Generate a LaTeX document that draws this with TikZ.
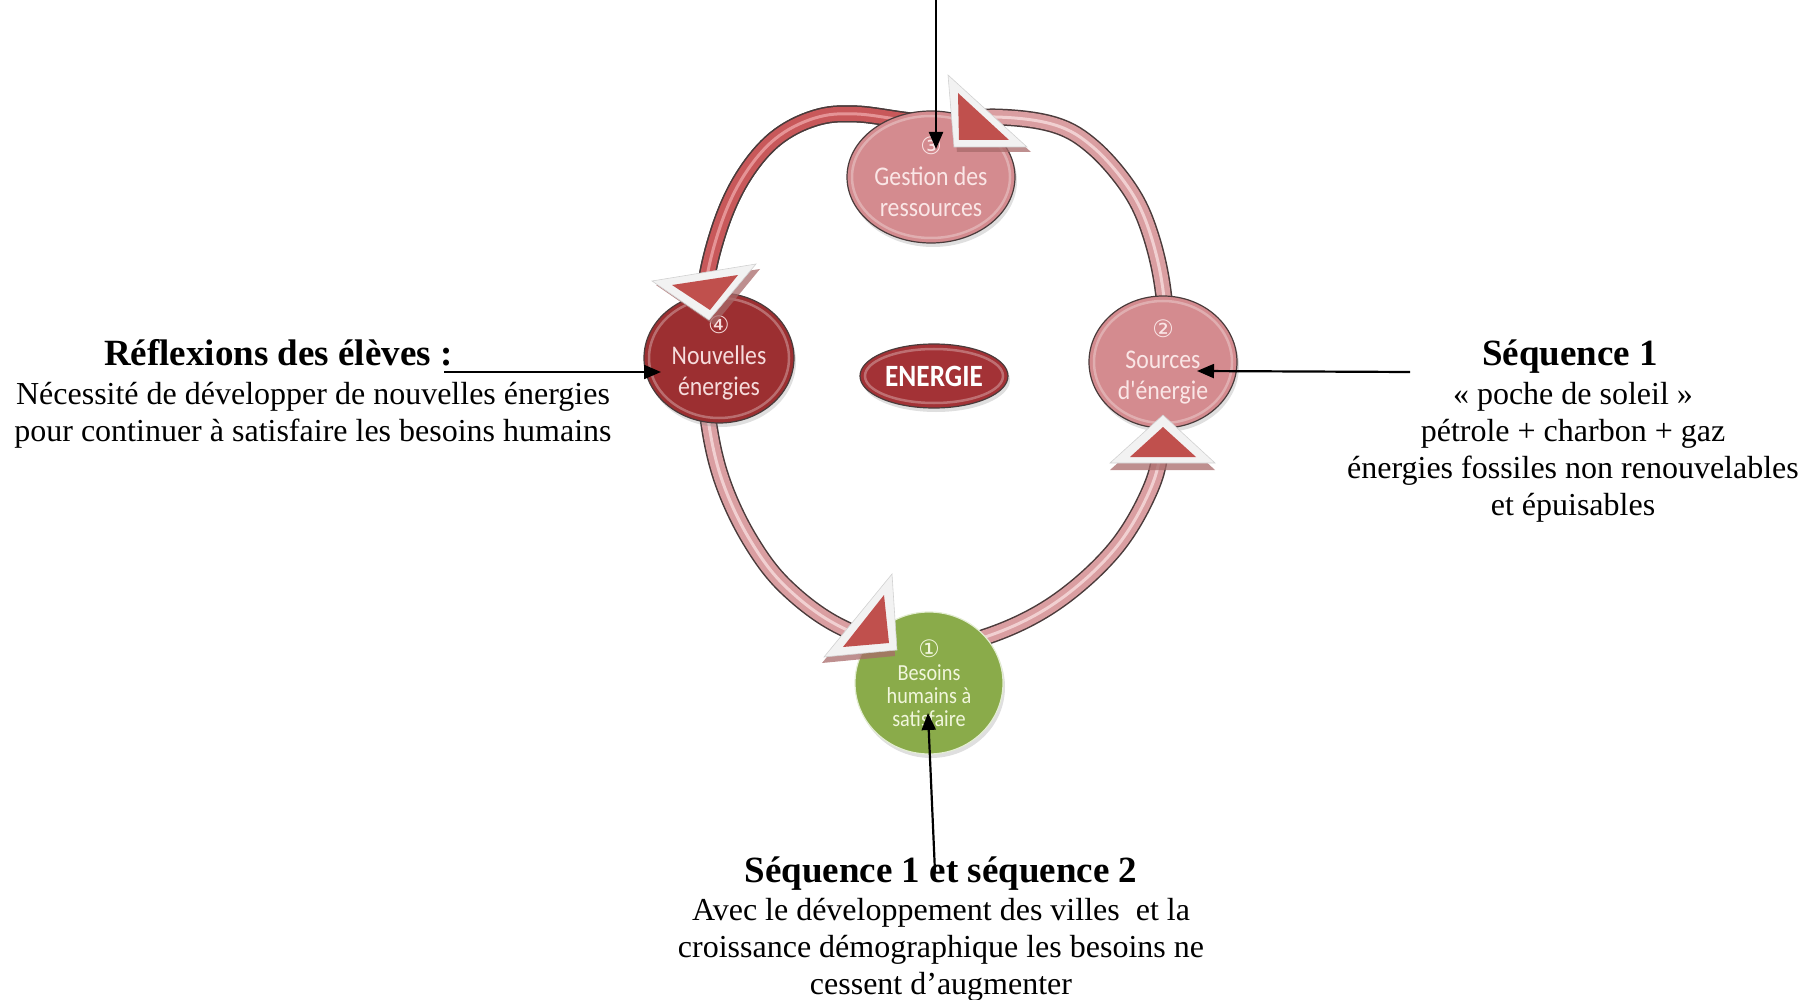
\documentclass[tikz,border=0pt]{standalone}
\usepackage{fontspec}
\setmainfont{Liberation Serif}
\newfontfamily\bubblefont[FakeStretch=0.88]{Carlito}
\newfontfamily\digitfont{DejaVu Sans}
\usetikzlibrary{arrows.meta,shapes.geometric,calc,shadows}

\definecolor{ringedge}{HTML}{4A3B3B}
\definecolor{ringpink}{HTML}{DA9EA1}
\definecolor{ringshine}{HTML}{F1D0D1}
\definecolor{ringred}{HTML}{C8585A}
\definecolor{ringredshine}{HTML}{E59496}
\definecolor{rosefill}{HTML}{D48B8F}
\definecolor{rosetext}{HTML}{FAE6E6}
\definecolor{wine}{HTML}{9C2F31}
\definecolor{winetext}{HTML}{F6DCDC}
\definecolor{energyfill}{HTML}{A33236}
\definecolor{leaf}{HTML}{8AAB4A}
\definecolor{leaftext}{HTML}{F1F6DC}
\definecolor{leafedge}{HTML}{E3EDD2}
\definecolor{tipred}{HTML}{C0504D}
\definecolor{tipwhite}{HTML}{F2F2F2}
\definecolor{tipshadow}{HTML}{A86A6A}

\tikzset{
  bubble/.style={ellipse, draw=ringedge, line width=1.2pt, inner sep=0pt,
    align=center, drop shadow={opacity=0.25, shadow xshift=2pt, shadow yshift=-4pt}},
  bigtext/.style={font=\bubblefont\fontsize{27}{31}\selectfont},
  smalltext/.style={font=\bubblefont\fontsize{23}{23}\selectfont},
  gloss/.style={draw=white, draw opacity=0.3, line width=2.5pt},
  note/.style={align=center, font=\fontsize{32}{37}\selectfont},
  notehead/.style={font=\bfseries\fontsize{37}{42}\selectfont},
  pointer/.style={draw=black, line width=2.2pt, -{Triangle[length=17pt,width=14pt]}},
  tipborder/.style={fill=tipwhite, draw=black!18, line width=0.6pt},
  tipcore/.style={fill=tipred},
  tipshade/.style={fill=tipshadow, fill opacity=0.75}
}
\newcommand{\circnum}[1]{{\digitfont\fontsize{24}{24}\selectfont #1}}

\begin{document}
\begin{tikzpicture}[x=1pt,y=-1pt]
\useasboundingbox (0,0) rectangle (1816,1000);

% ---- the cycle band ----
\path[save path=\ringband] plot[smooth cycle, tension=0.6] coordinates {
  (926,122) (995,117) (1055,125) (1094,148) (1130,190) (1150,233)
  (1163,290) (1167,360) (1162,440) (1150,490) (1114,550) (1055,603)
  (988,636) (915,651) (841,627) (786,587) (750,540) (723,483)
  (709,425) (704,360) (705,290) (720,227) (743,177) (775,139)
  (815,118) (857,114)};
\draw[use path=\ringband, draw=ringedge, line width=17pt];
\draw[use path=\ringband, draw=ringpink, line width=14pt];
\draw[use path=\ringband, draw=ringshine, line width=3pt];
\begin{scope}
  \clip (600,60) rectangle (925,300);
  \draw[use path=\ringband, draw=ringedge, line width=17pt];
  \draw[use path=\ringband, draw=ringred, line width=14pt];
  \draw[use path=\ringband, draw=ringredshine, line width=3pt];
\end{scope}

% ---- stages of the cycle ----
\node[bubble, bigtext, fill=rosefill, text=rosetext,
  minimum width=168pt, minimum height=132pt] (gest) at (931,177)
  {\circnum{③}\\Gestion des\\ressources};
\node[bubble, bigtext, fill=wine, text=winetext,
  minimum width=150pt, minimum height=130pt] (nouv) at (719,358)
  {\circnum{④}\\Nouvelles\\énergies};
\node[bubble, bigtext, fill=rosefill, text=rosetext,
  minimum width=148pt, minimum height=132pt] (src) at (1163,362)
  {\circnum{②}\\Sources\\d'énergie};
\node[bubble, smalltext, fill=leaf, text=leaftext, draw=leafedge,
  minimum width=148pt, minimum height=142pt] (bes) at (929,683)
  {\circnum{①}\\Besoins\\humains à\\satisfaire};
\node[bubble, fill=energyfill, text=white,
  font=\bubblefont\bfseries\fontsize{31}{33}\selectfont,
  minimum width=148pt, minimum height=64pt] (nrj) at (934,376) {ENERGIE};

% soft rim highlights on the glossy bubbles
\draw[gloss] (gest.center) ellipse [x radius=79, y radius=61];
\draw[gloss] (nouv.center) ellipse [x radius=70, y radius=60];
\draw[gloss] (src.center) ellipse [x radius=69, y radius=61];
\draw[gloss] (nrj.center) ellipse [x radius=69, y radius=27];

% ---- direction markers on the band ----
% near Gestion des ressources
\fill[tipshade] (950,80) -- (957,152) -- (1031,152) -- cycle;
\path[tipborder] (948,75) -- (954,147) -- (1027,147) -- cycle;
\path[tipcore] (958,93) -- (959,140) -- (1009,140) -- cycle;
% near Nouvelles energies
\fill[tipshade] (656,285) -- (760,269) -- (714,325) -- cycle;
\path[tipborder] (652,281) -- (756,264) -- (709,320) -- cycle;
\path[tipcore] (672,285) -- (738,275) -- (710,310) -- cycle;
% below Sources d'energie
\fill[tipshade] (1163,422) -- (1110,470) -- (1215,470) -- cycle;
\path[tipborder] (1163,415) -- (1110,463) -- (1215,463) -- cycle;
\path[tipcore] (1163,427) -- (1130,457) -- (1196,457) -- cycle;
% near Besoins humains
\fill[tipshade] (890,580) -- (822,663) -- (895,656) -- cycle;
\path[tipborder] (892,574) -- (824,657) -- (897,650) -- cycle;
\path[tipcore] (884,595) -- (843,647) -- (889,643) -- cycle;

% ---- annotations ----
\node[notehead, anchor=base east] (reflT) at (456,366) {Réflexions des élèves :};
\node[note] (reflB) at (313,415)
  {Nécessité de développer de nouvelles énergies\\pour continuer à satisfaire les besoins humains};

\node[notehead, anchor=base] (seqT) at (1570,366) {Séquence 1};
\node[note] (seqB) at (1573,452)
  {« poche de soleil »\\pétrole + charbon + gaz\\énergies fossiles non renouvelables\\et épuisables};

\node[notehead, anchor=base] (bothT) at (941,882) {Séquence 1 et séquence 2};
\node[note] (bothB) at (941,950)
  {Avec le développement des villes\ \ et la\\croissance démographique les besoins ne\\cessent d’augmenter};

% ---- pointers ----
\coordinate (topStart) at (936,0);
\coordinate (gestTip) at ($(gest.center)+(5,-28)$);
\coordinate (reflStart) at (444,372);
\coordinate (nouvTip) at ($(nouv.center)+(-58,14)$);
\coordinate (seqStart) at (1410,372);
\coordinate (srcTip) at ($(src.center)+(34,9)$);
\coordinate (bothStart) at (935,872);
\coordinate (besTip) at ($(bes.center)+(-1,30)$);

\draw[pointer] (topStart) -- (gestTip);
\draw[pointer] (reflStart) -- (nouvTip);
\draw[pointer] (seqStart) -- (srcTip);
\draw[pointer] (bothStart) -- (besTip);
\end{tikzpicture}
\end{document}
